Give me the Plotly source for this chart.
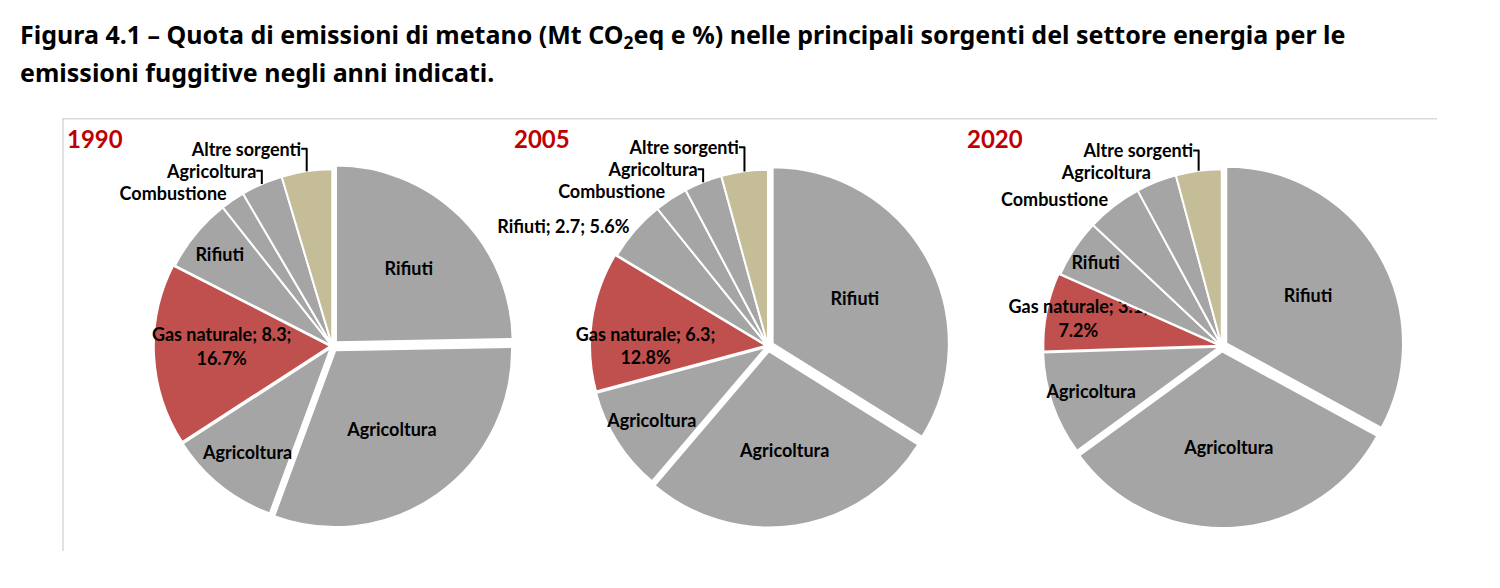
import plotly.graph_objects as go

# Quote di emissioni di metano (Mt CO2eq) per sorgente
anni = ["1990", "2005", "2020"]
sorgenti = ["Rifiuti", "Agricoltura", "Agricoltura", "Gas naturale",
            "Rifiuti", "Combustione", "Agricoltura", "Altre sorgenti"]
chiavi = ["rif_1", "agr_1", "agr_2", "gas", "rif_2", "comb", "agr_3", "altre"]

valori_1990 = [12.3, 15.4, 5.1, 8.3, 3.4, 1.1, 1.9, 2.3]
valori_2005 = [16.6, 13.4, 4.7, 6.27, 2.74, 1.5, 1.7, 2.09]
valori_2020 = [14.2, 13.8, 4.1, 3.1, 2.3, 2.2, 1.6, 1.8]

GRIGIO = "#A5A5A5"
colori = [GRIGIO, GRIGIO, GRIGIO, "#C0504D", GRIGIO, GRIGIO, GRIGIO, "#C4BD97"]
pull = [0.03, 0.03, 0.012, 0.01, 0, 0, 0, 0]

nome = "%{text}"
gas = "%{text}; %{value:.1f};<br>%{percent:.1%}"
rif = "%{text}; %{value:.1f}; %{percent:.1%}"

modelli = {
    "1990": [nome, nome, nome, gas, nome, nome, nome, nome],
    "2005": [nome, nome, nome, gas, rif, nome, nome, nome],
    "2020": [nome, nome, nome, gas, nome, nome, nome, nome],
}
posizioni = {
    "1990": ["inside"] * 5 + ["outside"] * 3,
    "2005": ["inside"] * 4 + ["outside"] * 4,
    "2020": ["inside"] * 5 + ["outside"] * 3,
}
domini = {
    "1990": [0.10, 0.343],
    "2005": [0.391, 0.633],
    "2020": [0.693, 0.936],
}
valori = {"1990": valori_1990, "2005": valori_2005, "2020": valori_2020}

font_etichette = dict(family="Lato", size=18, color="black", weight="bold")

fig = go.Figure()
for anno in anni:
    fig.add_trace(go.Pie(
        labels=chiavi,
        values=valori[anno],
        text=sorgenti,
        texttemplate=modelli[anno],
        textposition=posizioni[anno],
        insidetextorientation="horizontal",
        sort=False,
        direction="clockwise",
        rotation=0,
        pull=pull,
        marker=dict(colors=colori, line=dict(color="white", width=2)),
        textfont=font_etichette,
        domain=dict(x=domini[anno], y=[0.102, 0.721]),
        showlegend=False,
        hoverinfo="label+value+percent",
    ))

# anni in rosso in alto a sinistra di ogni torta
for anno, x in zip(anni, [0.043, 0.341, 0.643]):
    fig.add_annotation(
        text=anno, x=x, y=0.765, xref="paper", yref="paper",
        xanchor="left", yanchor="middle", showarrow=False,
        font=dict(family="Lato", size=24, color="#C00000", weight="bold"),
    )

# titolo su due righe
righe_titolo = [
    "Figura 4.1 – Quota di emissioni di metano (Mt CO<sub>2</sub>eq e %) "
    "nelle principali sorgenti del settore energia per le",
    "emissioni fuggitive negli anni indicati.",
]
for riga, y in zip(righe_titolo, [0.94, 0.877]):
    fig.add_annotation(
        text=riga, x=0.012, y=y, xref="paper", yref="paper",
        xanchor="left", yanchor="middle", showarrow=False,
        font=dict(family="Noto Sans", size=25, color="black", weight="bold"),
    )

# bordo dell'area del grafico (solo sopra e a sinistra visibili)
fig.add_shape(type="line", xref="paper", yref="paper",
              x0=0.0413, x1=0.958, y0=0.798, y1=0.798,
              line=dict(color="#D9D9D9", width=1.5))
fig.add_shape(type="line", xref="paper", yref="paper",
              x0=0.042, x1=0.042, y0=0.798, y1=0.063,
              line=dict(color="#D9D9D9", width=1.5))

fig.update_layout(
    width=1500,
    height=588,
    margin=dict(l=0, r=0, t=0, b=0),
    paper_bgcolor="white",
    uniformtext=dict(minsize=18, mode="show"),
)

fig.write_html(
    "out.html",
    config={"displayModeBar": False},
    post_script="document.body.style.margin = '0';",
)
